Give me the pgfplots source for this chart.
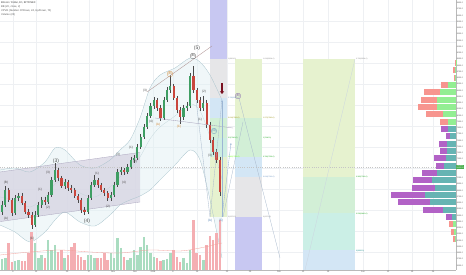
\documentclass[border=0pt]{standalone}
\usepackage{fontspec}
\setmainfont{Liberation Sans}
\usepackage{pgfplots}
\usepackage{pgfplotstable}
\pgfplotsset{compat=1.18}
\usepgfplotslibrary{fillbetween}
\usetikzlibrary{arrows.meta}

\definecolor{candleG}{HTML}{3F9E63}
\definecolor{candleR}{HTML}{C9463D}
\definecolor{wick}{HTML}{4A4A4A}
\definecolor{volG}{HTML}{A9DCC0}
\definecolor{volR}{HTML}{F4AEB2}
\definecolor{vpRed}{HTML}{F7958F}
\definecolor{vpGreen}{HTML}{93EE93}
\definecolor{vpPurple}{HTML}{B262C6}
\definecolor{vpTeal}{HTML}{66B4B3}
\definecolor{fibPurple}{HTML}{C8C8F2}
\definecolor{fibGray}{HTML}{E6E6E8}
\definecolor{fibBlue}{HTML}{D3E6F5}
\definecolor{fibGreen}{HTML}{D2EFD6}
\definecolor{fibTeal}{HTML}{CDEEE2}
\definecolor{fibLime}{HTML}{E6F2CF}
\definecolor{fibMint}{HTML}{CBEFE6}
\definecolor{chan}{HTML}{D6D3E2}
\definecolor{chanEdge}{HTML}{A9A3BC}
\definecolor{band}{HTML}{A9C3CC}
\definecolor{bandFill}{HTML}{E3F1F4}
\definecolor{gridc}{HTML}{EEF0F3}
\definecolor{labc}{HTML}{555555}
\definecolor{wave}{HTML}{4D4D4D}
\definecolor{waveOr}{HTML}{D38A3A}
\definecolor{waveBl}{HTML}{5A86B8}
\definecolor{wavePu}{HTML}{7A5AA8}
\definecolor{arrowR}{HTML}{7A1020}
\definecolor{fore}{HTML}{A8B8CC}
\definecolor{tagG}{HTML}{4CAF50}
\definecolor{wedge}{HTML}{B09494}
\definecolor{volMA}{HTML}{F2A09A}

% candles: x, body top, body bottom, wick high, wick low (screen rows)
\pgfplotstableread{
x top bot hi lo
2.0 205 212 201 215
5.3 190 205 186 207
15.2 198 213 195 215
18.5 196 198 193 201
35.0 215 225 211 227
38.3 205 215 202 217
41.6 200 205 197 208
48.2 195 202 192 204
51.5 180 195 177 197
54.8 170 180 163 182
64.7 182 186 179 189
87.8 198 212 195 214
91.1 185 198 182 200
94.4 180 185 175 187
110.9 195 198 192 201
114.2 185 195 182 197
117.5 172 185 169 187
120.8 170 172 167 175
127.4 167 172 164 174
130.7 160 167 157 169
134.0 158 160 155 163
137.3 147 158 144 160
140.6 137 147 134 149
143.9 127 137 124 139
147.2 116 127 113 129
150.5 106 116 103 118
153.8 100 106 97 109
163.7 100 118 97 120
167.0 90 100 87 102
170.3 86 90 75 93
183.5 108 117 105 120
186.8 106 108 102 111
190.1 76 106 73 108
203.3 103 108 96 111
}\greenCandles

\pgfplotstableread{
x top bot hi lo
8.6 190 200 188 202
11.9 200 213 198 216
21.8 196 203 193 205
25.1 203 212 201 214
28.4 212 215 209 218
31.7 215 225 212 229
44.9 200 202 197 205
58.1 170 178 168 181
61.4 178 186 176 188
68.0 182 188 180 191
71.3 188 190 185 193
74.6 190 196 188 198
77.9 196 200 194 203
81.2 200 210 198 213
84.5 210 212 207 215
97.7 180 185 178 188
101.0 185 190 183 192
104.3 190 193 188 196
107.6 193 198 191 201
124.1 170 172 168 175
157.1 100 108 98 111
160.4 108 118 105 121
173.6 86 98 84 100
176.9 98 110 96 113
180.2 110 117 107 124
193.4 76 90 66 93
196.7 90 100 88 103
200.0 100 108 97 111
206.6 103 125 100 128
209.9 125 140 122 143
213.2 140 152 137 155
216.5 152 160 149 163
219.8 160 192 157 196
}\redCandles

% volume bars: x, bar top row
\pgfplotstableread{
x top
2.0 259
5.3 258
15.2 261
18.5 260
35.0 243
38.3 258
41.6 255
48.2 240
51.5 250
54.8 245
64.7 258
87.8 255
91.1 255
94.4 258
110.9 253
114.2 258
117.5 238
120.8 248
127.4 260
130.7 258
134.0 250
137.3 255
140.6 247
143.9 237
147.2 245
150.5 253
153.8 257
163.7 260
167.0 259
170.3 253
183.5 258
186.8 263
190.1 250
203.3 260
}\greenVol

\pgfplotstableread{
x top
8.6 243
11.9 262
21.8 261
25.1 261
28.4 253
31.7 232
44.9 258
58.1 252
61.4 250
68.0 255
71.3 247
74.6 243
77.9 255
81.2 257
84.5 260
97.7 258
101.0 258
104.3 253
107.6 260
124.1 257
157.1 258
160.4 261
173.6 250
176.9 257
180.2 262
193.4 220
196.7 253
200.0 255
206.6 245
209.9 236
213.2 240
216.5 233
219.8 220
}\redVol

% volume profile rows: row, left end of total, left end of up-volume
\pgfplotstableread{
y tot buy
63.0 454.5 455.5
70.3 453 455
77.7 453.5 455
85.0 441 448
92.3 424 440
99.7 421 437
107.0 418 437
114.3 426 443
121.7 440 448
224.3 449 453
231.7 451 454
239.0 453 455
}\vpOuter

\pgfplotstableread{
y tot buy
129.0 441 448
136.3 446 450
143.7 439 447
151.0 440 447
158.3 434 446
165.7 436 444
173.0 422 437
180.3 413 432
187.7 412 435
195.0 391 425
202.3 398 430
209.7 423 443
217.0 446 452
}\vpValue

\newcommand\fibbox[5]{\addplot[draw=none, fill=#5, forget plot] coordinates {(#1,#3) (#2,#3) (#2,#4) (#1,#4)} --cycle;}

\tikzset{
  wl/.style={font=\fontsize{3.2}{3.6}\selectfont, text=wave, inner sep=0pt},
  wlb/.style={font=\fontsize{5}{6}\selectfont, text=wave, inner sep=0pt},
  fl/.style={font=\fontsize{1.8}{2}\selectfont, inner sep=0pt, anchor=west},
}

\begin{document}
\begin{tikzpicture}
\begin{axis}[
  at={(0bp,5bp)}, anchor=south west,
  scale only axis, width=456bp, height=270bp,
  xmin=0, xmax=456, ymin=0, ymax=270, y dir=reverse,
  clip=false,
  axis x line*=bottom, axis y line*=right,
  axis line style={draw=gray!55, line width=0.3bp, -},
  xtick={13,36,67,89,113,135,153,173,197,227,250,279,303,328,363,388,412,433},
  xticklabels={6,13,20,27,Nov,Dec,2018,8,15,22,29,Feb,12,19,Jun,12,19,26},
  xticklabel style={font=\fontsize{2.2}{2.4}\selectfont, text=labc, inner sep=0.8bp},
  ytick={3,9.25,...,159.25,178,184.25,...,265.5},
  yticklabel style={font=\fontsize{2}{2.3}\selectfont, text=labc, inner xsep=0.6bp, inner ysep=0.3bp},
  yticklabel={\pgfmathparse{9800-(\tick-3)*16}\pgfmathprintnumber[assume math mode=true, fixed, fixed zerofill, precision=1, 1000 sep={}]{\pgfmathresult}},
  major tick length=0pt,
  xmajorgrids, grid style={draw=gridc, line width=0.3bp},
  extra y ticks={21,42,...,252}, extra y tick labels={},
  extra y tick style={ymajorgrids, major tick length=0pt},
]

% Fibonacci columns
\fibbox{210}{227}{0}{59}{fibPurple}
\fibbox{210}{227}{59}{98}{fibGray}
\fibbox{210}{227}{98}{118}{fibBlue}
\fibbox{210}{227}{118}{138}{fibGreen}
\fibbox{210}{227}{138}{157}{fibTeal}
\fibbox{210}{227}{157}{217}{fibLime}
\fibbox{235}{262}{59}{118}{fibLime}
\fibbox{235}{262}{118}{157}{fibGreen}
\fibbox{235}{262}{157}{177}{fibBlue}
\fibbox{235}{262}{177}{217}{fibGray}
\fibbox{235}{262}{217}{270}{fibPurple}
\fibbox{303}{355}{59}{177}{fibLime}
\fibbox{303}{355}{177}{213}{fibGreen}
\fibbox{303}{355}{213}{250}{fibMint}
\fibbox{303}{355}{250}{270}{fibBlue}

% parallel channel
\addplot[fill=chan, fill opacity=0.75, draw=none, forget plot] coordinates {(0,172) (140,152.4) (140,202) (0,221.6)} --cycle;
\addplot[draw=chanEdge, line width=0.3bp, forget plot] coordinates {(0,172) (140,152.4)};
\addplot[draw=chanEdge, line width=0.3bp, forget plot] coordinates {(0,221.6) (140,202)};

% Bollinger bands
\addplot[name path=bbU, draw=band, line width=0.3bp, smooth, forget plot] coordinates {
(0,170) (15,168) (30,172) (45,162) (55,148) (65,150) (80,165) (95,168) (110,160) (120,150) (130,140) (140,118) (150,88) (160,75) (175,68) (190,58) (200,62) (210,75) (222,100)};
\addplot[name path=bbL, draw=band, line width=0.3bp, smooth, forget plot] coordinates {
(0,225) (15,232) (30,242) (45,232) (55,220) (65,212) (80,222) (95,226) (110,215) (120,205) (130,200) (140,196) (150,190) (160,180) (175,165) (190,150) (200,160) (210,200) (222,258)};
\addplot[fill=bandFill, fill opacity=0.55, draw=none, forget plot] fill between[of=bbU and bbL];
\addplot[draw=band!70, line width=0.25bp, smooth, forget plot] coordinates {
(0,197) (15,200) (30,207) (45,197) (55,184) (65,181) (80,193) (95,197) (110,187) (120,177) (130,170) (140,157) (150,139) (160,127) (175,116) (190,104) (200,111) (210,137) (222,179)};

% last price line
\addplot[draw=gray!45, line width=0.25bp, dotted, forget plot] coordinates {(0,167) (456,167)};

% volume
\addplot[draw=none, forget plot, error bars/.cd, y dir=plus, y explicit, error mark=none,
  error bar style={draw=volG, line width=2.5bp}]
  table[x=x, y=top, y error expr=270-\thisrow{top}] {\greenVol};
\addplot[draw=none, forget plot, error bars/.cd, y dir=plus, y explicit, error mark=none,
  error bar style={draw=volR, line width=2.5bp}]
  table[x=x, y=top, y error expr=270-\thisrow{top}] {\redVol};
\addplot[draw=volMA, line width=0.3bp, smooth, forget plot] coordinates {
(0,255) (30,252) (60,250) (90,252) (120,253) (150,250) (180,251) (200,248) (222,243)};

% candles: wicks then bodies
\addplot[draw=none, forget plot, error bars/.cd, y dir=plus, y explicit, error mark=none,
  error bar style={draw=wick, line width=0.35bp}]
  table[x=x, y=hi, y error expr=\thisrow{lo}-\thisrow{hi}] {\greenCandles};
\addplot[draw=none, forget plot, error bars/.cd, y dir=plus, y explicit, error mark=none,
  error bar style={draw=wick, line width=0.35bp}]
  table[x=x, y=hi, y error expr=\thisrow{lo}-\thisrow{hi}] {\redCandles};
\addplot[draw=none, forget plot, error bars/.cd, y dir=plus, y explicit, error mark=none,
  error bar style={draw=candleG, line width=2.2bp}]
  table[x=x, y=top, y error expr=\thisrow{bot}-\thisrow{top}] {\greenCandles};
\addplot[draw=none, forget plot, error bars/.cd, y dir=plus, y explicit, error mark=none,
  error bar style={draw=candleR, line width=2.2bp}]
  table[x=x, y=top, y error expr=\thisrow{bot}-\thisrow{top}] {\redCandles};

% wedge and neckline
\addplot[draw=wedge, line width=0.35bp, forget plot] coordinates {(147,92) (212,46)};
\addplot[draw=chanEdge, line width=0.35bp, forget plot] coordinates {(155,118) (233,128)};

% projection lines
\addplot[draw=fore, line width=0.3bp, forget plot] coordinates {(210,217) (222,100)};
\addplot[draw=fore, line width=0.3bp, forget plot] coordinates {(196,100) (210,217)};
\addplot[draw=fore, line width=0.3bp, forget plot] coordinates {(243,122) (223,217)};
\addplot[draw=fore, line width=0.3bp, forget plot] coordinates {(239,98) (280,258)};
\addplot[draw=fore!60, line width=0.3bp, forget plot] coordinates {(305,270) (355,59)};
\addplot[draw=waveBl!60, line width=0.35bp, -{Stealth[length=2bp,width=1.6bp]}, forget plot] coordinates {(222,217) (222,100)};
\addplot[draw=waveBl!60, line width=0.35bp, -{Stealth[length=2bp,width=1.6bp]}, forget plot] coordinates {(222,217) (231,143)};
\addplot[draw=arrowR, line width=1.3bp, -{Triangle[length=2.6bp,width=4bp]}, forget plot] coordinates {(222,83) (222,94)};

% volume profile
\addplot[draw=none, forget plot, error bars/.cd, x dir=minus, x explicit, error mark=none,
  error bar style={draw=vpRed, line width=6.2bp}]
  table[x expr=456, y=y, x error expr=456-\thisrow{tot}] {\vpOuter};
\addplot[draw=none, forget plot, error bars/.cd, x dir=minus, x explicit, error mark=none,
  error bar style={draw=vpGreen, line width=6.2bp}]
  table[x expr=456, y=y, x error expr=456-\thisrow{buy}] {\vpOuter};
\addplot[draw=none, forget plot, error bars/.cd, x dir=minus, x explicit, error mark=none,
  error bar style={draw=vpPurple, line width=6.2bp}]
  table[x expr=456, y=y, x error expr=456-\thisrow{tot}] {\vpValue};
\addplot[draw=none, forget plot, error bars/.cd, x dir=minus, x explicit, error mark=none,
  error bar style={draw=vpTeal, line width=6.2bp}]
  table[x expr=456, y=y, x error expr=456-\thisrow{buy}] {\vpValue};

% Fibonacci level labels
\node[fl, text=gray] at (axis cs:228,59) {1(8904.0)};
\node[fl, text=waveBl] at (axis cs:228,98) {0.786(8280.0)};
\node[fl, text=olive] at (axis cs:228,118) {0.618(7960.0)};
\node[fl, text=green!60!black] at (axis cs:228,138) {0.5(7640.0)};
\node[fl, text=lime!50!green] at (axis cs:228,157) {0.382(7336.0)};
\node[fl, text=gray] at (axis cs:228,217) {0(6376.0)};
\node[fl, text=gray] at (axis cs:263,59) {1.618(8904.0)};
\node[fl, text=olive] at (axis cs:263,118) {1.272(7960.0)};
\node[fl, text=green!60!black] at (axis cs:263,138) {1(7640.0)};
\node[fl, text=green!60!black] at (axis cs:263,157) {0.786(7336.0)};
\node[fl, text=waveBl] at (axis cs:263,177) {0.618(7016.0)};
\node[fl, text=gray] at (axis cs:263,217) {0(6376.0)};
\node[fl, text=gray] at (axis cs:356,59) {0.786(8904.0)};
\node[fl, text=green!60!black] at (axis cs:356,177) {0.382(7016.0)};
\node[fl, text=green!60!black] at (axis cs:356,214) {0.236(6440.0)};
\node[fl, text=teal] at (axis cs:356,251) {0(5832.0)};

% wave labels
\node[wl] at (axis cs:6,183) {(B)};
\node[wl] at (axis cs:6,219) {(A)};
\node[wl] at (axis cs:32,239) {(C)};
\node[wl] at (axis cs:40,190) {(1)};
\node[wl] at (axis cs:48,208) {(2)};
\node[wl] at (axis cs:48,173) {(3)};
\node[wlb] at (axis cs:56,161) {(3)};
\node[wlb] at (axis cs:87,221) {(4)};
\node[wl] at (axis cs:97,174) {(1)};
\node[wl] at (axis cs:108,207) {(2)};
\node[wl] at (axis cs:118,155) {(3)};
\node[wl] at (axis cs:124,183) {(4)};
\node[wl] at (axis cs:131,148) {(1)};
\node[wl] at (axis cs:135,162) {(2)};
\node[wl] at (axis cs:145,91) {(3)};
\node[wl] at (axis cs:151,122) {(4)};
\node[wl, text=waveOr] at (axis cs:158,125) {(A)};
\node[wl, text=waveOr, draw=waveOr, circle, line width=0.2bp, inner sep=0.2bp] at (axis cs:170,74) {(B)};
\node[wl, text=waveOr] at (axis cs:179,127) {(C)};
\node[wl, draw=wave, circle, line width=0.2bp, inner sep=0.2bp] at (axis cs:193,56) {(B)};
\node[wlb] at (axis cs:197,48) {(5)};
\node[wl] at (axis cs:204,92) {(2)};
\node[wl] at (axis cs:200,120) {(1)};
\node[wl] at (axis cs:210,156) {(3)};
\node[wl, text=waveBl, draw=waveBl, circle, line width=0.2bp, inner sep=0.2bp] at (axis cs:214,131) {(4)};
\node[wl, text=waveBl] at (axis cs:210,221) {(A)};
\node[wl, text=waveBl] at (axis cs:221,221) {(5)};
\node[wl, text=wavePu, draw=wavePu, circle, line width=0.2bp, inner sep=0.2bp] at (axis cs:238,96) {(B)};

% legend block
\node[anchor=west, font=\fontsize{2.6}{3}\selectfont, text=labc!70!black, inner sep=0] at (axis cs:1,3) {Bitcoin / Dollar, 1D, BITFINEX};
\node[anchor=west, font=\fontsize{2.6}{3}\selectfont, text=labc, inner sep=0] at (axis cs:1,7) {BB (20, close, 2)};
\node[anchor=west, font=\fontsize{2.6}{3}\selectfont, text=labc, inner sep=0] at (axis cs:1,10.7) {VPVR (Number Of Rows, 24, Up/Down, 70)};
\node[anchor=west, font=\fontsize{2.6}{3}\selectfont, text=labc, inner sep=0] at (axis cs:1,14.4) {Volume (20)};

% last price tag
\node[anchor=west, fill=tagG, text=white, font=\fontsize{1.8}{2}\selectfont, inner xsep=0.4bp, inner ysep=0.8bp, align=center] at (axis cs:456,167) {7176.0\\14:22:10};
\end{axis}
\pgfresetboundingbox
\useasboundingbox (0,0) rectangle (466bp,275bp);
\end{tikzpicture}
\end{document}
